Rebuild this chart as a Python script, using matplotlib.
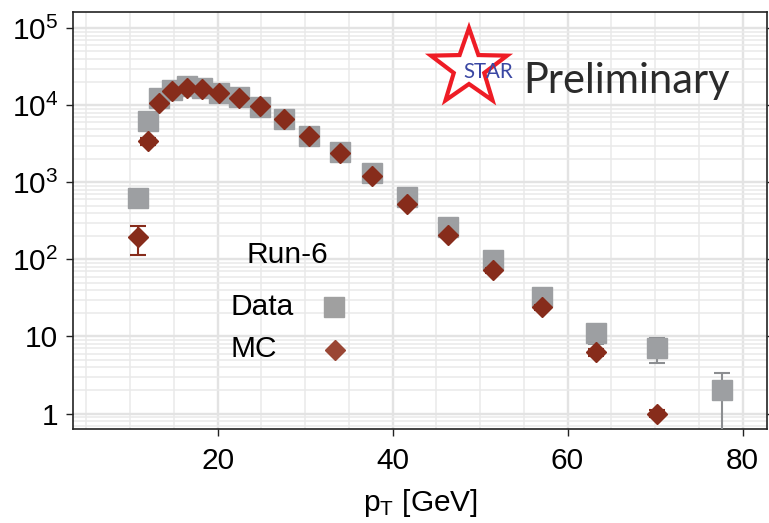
import matplotlib
matplotlib.use("Agg")
import matplotlib.pyplot as plt
from matplotlib.patches import Polygon
from matplotlib.ticker import FixedLocator, FixedFormatter, MultipleLocator, LogLocator, NullFormatter
import numpy as np

# Run-6 jet spectrum, data vs MC
data_pt = [10.9, 12.0, 13.3, 14.8, 16.5, 18.2, 20.1, 22.4, 24.8, 27.6, 30.5,
           34.0, 37.6, 41.7, 46.3, 51.5, 57.1, 63.3, 70.2, 77.7]
data_y = [620, 6200, 12400, 16000, 18000, 16700, 14600, 12800, 9400, 6600, 4050,
          2500, 1310, 640, 260, 97, 33, 11, 7.0, 2.0]
data_err = [40, 250, 300, 300, 300, 300, 250, 250, 200, 150, 100,
            70, 50, 30, 16, 10, 6, 3, 2.5, 1.4]

mc_pt = [10.9, 12.0, 13.3, 14.8, 16.5, 18.2, 20.1, 22.4, 24.8, 27.6,
         30.5, 34.0, 37.6, 41.7, 46.3, 51.5, 57.1, 63.3, 70.2]
mc_y = [195, 3400, 10600, 15200, 16700, 16100, 14300, 12400, 9700, 6600,
        4050, 2400, 1200, 520, 205, 72, 24, 6.2, 1.0]
mc_err = [80, 350, 300, 300, 300, 300, 250, 200, 150, 100,
          60, 40, 25, 15, 8, 5, 2, 0.6, 0.1]

ytick_vals = [1, 10, 100, 1e3, 1e4, 1e5]
ytick_labels = ["1", "10", "$10^2$", "$10^3$", "$10^4$", "$10^5$"]
xtick_vals = [20, 40, 60, 80]

plt.rcParams["font.family"] = ["Liberation Sans", "DejaVu Sans"]
plt.rcParams["mathtext.fontset"] = "custom"
plt.rcParams["mathtext.rm"] = "Liberation Sans"
plt.rcParams["mathtext.it"] = "Liberation Sans:italic"
plt.rcParams["mathtext.default"] = "regular"

W, H = 769, 523
fs = 21.5
fig = plt.figure(figsize=(W / 100, H / 100), dpi=100)
ax = fig.add_axes([73.3 / W, 1 - 428.5 / H, (767 - 73.3) / W, (428.5 - 12.3) / H])

gray = "#9d9fa2"
red = "#872c1b"

ax.errorbar(data_pt, data_y, yerr=data_err, fmt="s", ms=15, color=gray, mec=gray,
            ecolor="#8c8e91", elinewidth=1.5, capsize=6, capthick=1.5, zorder=3)
ax.errorbar(mc_pt, mc_y, yerr=mc_err, fmt="D", ms=10.5, color=red, mec=red,
            ecolor=red, elinewidth=1.5, capsize=6, capthick=1.5, zorder=4)

ax.set_yscale("log")
ax.set_xlim(3.5, 82.8)
ax.set_ylim(0.64, 1.61e5)

ax.yaxis.set_major_locator(FixedLocator(ytick_vals))
ax.yaxis.set_major_formatter(FixedFormatter(ytick_labels))
ax.yaxis.set_minor_locator(LogLocator(base=10, subs=np.arange(2, 10)))
ax.yaxis.set_minor_formatter(NullFormatter())
ax.xaxis.set_major_locator(FixedLocator(xtick_vals))
ax.xaxis.set_minor_locator(MultipleLocator(5))

ax.tick_params(which="major", direction="out", length=5, width=1, labelsize=fs,
               color="#222222", right=True)
ax.tick_params(axis="y", which="major", pad=6)
ax.tick_params(axis="x", which="major", pad=8)
ax.tick_params(which="minor", length=0)

ax.grid(True, which="major", color="#e3e3e3", lw=1.7, zorder=0)
ax.grid(True, which="minor", color="#eaeaea", lw=1.1, zorder=0)
ax.set_axisbelow(True)
for s in ax.spines.values():
    s.set_color("#222222")
    s.set_linewidth(1.2)

ax.set_xlabel("$p_T$ [GeV]", fontsize=fs, labelpad=9)

# legend block
ax.text(0.308, 0.417, "Run-6", transform=ax.transAxes, fontsize=fs, ha="center", va="center")
ax.text(0.226, 0.292, "Data", transform=ax.transAxes, fontsize=fs, ha="left", va="center")
ax.text(0.226, 0.191, "MC", transform=ax.transAxes, fontsize=fs, ha="left", va="center")
ax.plot([0.376], [0.292], "s", ms=15, color="#a0a0a0", transform=ax.transAxes, clip_on=False)
ax.plot([0.377], [0.189], "D", ms=10, color="#9a4634", transform=ax.transAxes, clip_on=False)

# STAR Preliminary logo
cx, cy, r_out, r_in = 469, 68, 40, 16
pts = []
for k in range(10):
    ang = np.deg2rad(90 + 36 * k)
    r = r_out if k % 2 == 0 else r_in
    pts.append(((cx + r * np.cos(ang)) / W, 1 - (cy - r * np.sin(ang)) / H))
fig.patches.append(Polygon(pts, closed=True, facecolor="white", edgecolor="#ee1c25",
                           lw=3, transform=fig.transFigure, zorder=5))
fig.text(463 / W, 1 - 78 / H, "STAR", fontsize=14.8, color="#3a47a3", family="Lato",
         ha="left", va="baseline", zorder=6)
fig.text(523 / W, 1 - 93 / H, "Preliminary", fontsize=30, color="#2b2b2b", family="Lato",
         ha="left", va="baseline", zorder=6)

fig.savefig("out.png", dpi=100)
